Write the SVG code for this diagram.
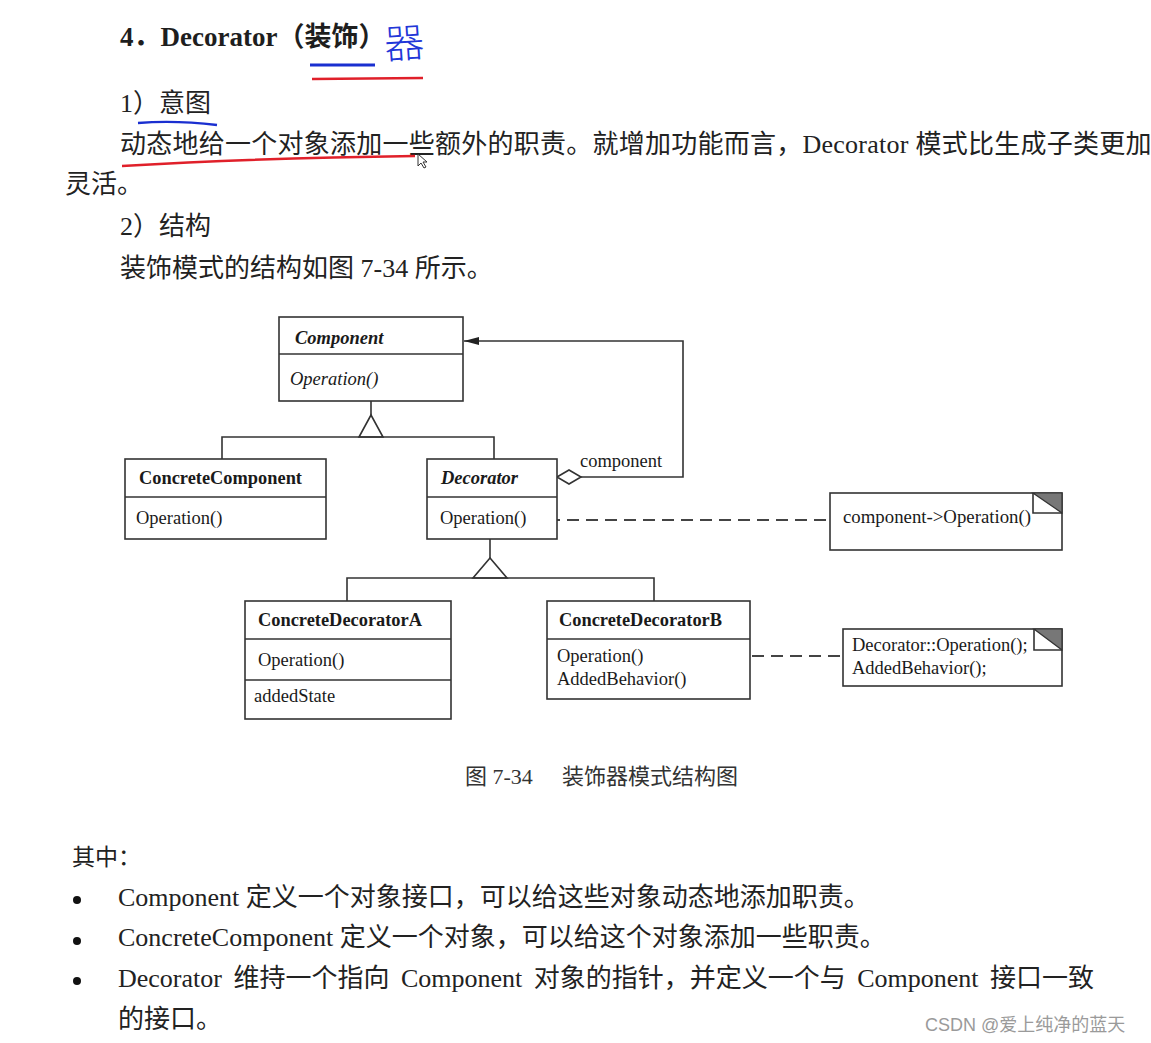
<svg xmlns="http://www.w3.org/2000/svg" width="1151" height="1043" viewBox="0 0 1151 1043">
<defs>
<style>
.t{font-family:"Liberation Serif","Noto Sans CJK SC",serif;fill:#1e1e1e}
.cjk{font-family:"Liberation Serif","Noto Sans CJK SC",serif;fill:#222;font-size:26px}
.d{font-family:"Liberation Serif",serif;fill:#1a1a1a;font-size:18.5px}
.b{font-weight:bold}
.i{font-style:italic}
.box{fill:#fff;stroke:#333;stroke-width:1.6}
.ln{fill:none;stroke:#333;stroke-width:1.6}
.dash{fill:none;stroke:#444;stroke-width:2;stroke-dasharray:12,7}
</style>
<marker id="fa" markerWidth="16" markerHeight="10" refX="15" refY="5" orient="auto" markerUnits="userSpaceOnUse">
<path d="M0,1 L15,5 L0,9 Z" fill="#222"/>
</marker>
</defs>
<rect width="1151" height="1043" fill="#fff"/>

<!-- header text -->
<g id="header">
<text class="t b" x="120" y="46" font-size="27">4．Decorator（装饰）</text>
<text x="384" y="58" font-family="Noto Sans CJK SC,sans-serif" font-size="40" font-weight="300" fill="#2236d8" transform="rotate(-4 400 40)">器</text>
<path d="M310,65 L375,65" stroke="#1a2fd0" stroke-width="3" fill="none"/>
<path d="M312,79 L423,78" stroke="#e0202a" stroke-width="2.5" fill="none"/>
<text class="cjk" x="120" y="112">1）意图</text>
<path d="M138,123 Q175,120 217,125" stroke="#1a2fd0" stroke-width="2.5" fill="none"/>
<text class="cjk" x="120" y="153" style="letter-spacing:0.25px">动态地给一个对象添加一些额外的职责。就增加功能而言，Decorator 模式比生成子类更加</text>
<path d="M122,166 Q260,158 415,156" stroke="#e0202a" stroke-width="2.5" fill="none"/>
<path d="M418,154 L418,166 L421,163 L424,168 L426,167 L423,162 L427,162 Z" fill="#fff" stroke="#333" stroke-width="1"/>
<text class="cjk" x="65" y="193">灵活。</text>
<text class="cjk" x="120" y="235">2）结构</text>
<text class="cjk" x="120" y="277">装饰模式的结构如图 7-34 所示。</text>
</g>

<!-- connectors -->
<g id="connectors">
<path class="ln" d="M371,401 L371,415"/>
<path class="ln" d="M371,415 L359,437 L383,437 Z"/>
<path class="ln" d="M222,459 L222,437 L494,437 L494,459"/>
<path class="ln" d="M490,539 L490,558"/>
<path class="ln" d="M490,558 L473,578 L507,578 Z"/>
<path class="ln" d="M347,601 L347,578 L654,578 L654,601"/>
<path class="ln" d="M557,477 L569,470 L581,477 L569,484 Z"/>
<path class="ln" d="M581,477 L683,477 L683,341 L464,341" marker-end="url(#fa)"/>
<text class="d" x="580" y="467">component</text>
<circle cx="543" cy="520" r="5" class="ln"/>
<path class="dash" d="M548,520 L830,520"/>
<circle cx="671" cy="656" r="5" class="ln"/>
<path class="dash" d="M676,656 L843,656"/>
</g>

<!-- nodes -->
<g id="component">
<rect class="box" x="279" y="317" width="184" height="84"/>
<path class="ln" d="M279,354 L463,354"/>
<text class="d b i" x="295" y="344">Component</text>
<text class="d i" x="290" y="385">Operation()</text>
</g>
<g id="concreteComponent">
<rect class="box" x="125" y="459" width="201" height="80"/>
<path class="ln" d="M125,497 L326,497"/>
<text class="d b" x="139" y="484" textLength="163" lengthAdjust="spacingAndGlyphs">ConcreteComponent</text>
<text class="d" x="136" y="524">Operation()</text>
</g>
<g id="decorator">
<rect class="box" x="427" y="459" width="130" height="80"/>
<path class="ln" d="M427,497 L557,497"/>
<text class="d b i" x="441" y="484">Decorator</text>
<text class="d" x="440" y="524">Operation()</text>
</g>
<g id="concreteDecoratorA">
<rect class="box" x="245" y="601" width="206" height="118"/>
<path class="ln" d="M245,639 L451,639 M245,680 L451,680"/>
<text class="d b" x="258" y="626" textLength="164" lengthAdjust="spacingAndGlyphs">ConcreteDecoratorA</text>
<text class="d" x="258" y="666">Operation()</text>
<text class="d" x="254" y="702">addedState</text>
</g>
<g id="concreteDecoratorB">
<rect class="box" x="547" y="601" width="203" height="98"/>
<path class="ln" d="M547,639 L750,639"/>
<text class="d b" x="559" y="626" textLength="163" lengthAdjust="spacingAndGlyphs">ConcreteDecoratorB</text>
<text class="d" x="557" y="662">Operation()</text>
<text class="d" x="557" y="685">AddedBehavior()</text>
</g>
<g id="note1">
<rect class="box" x="830" y="493" width="232" height="57"/>
<path d="M1033,493 L1062,493 L1062,513 Z" fill="#777" stroke="#333" stroke-width="1.2"/>
<path class="ln" d="M1033,493 L1033,513 L1062,513" stroke-width="1.2"/>
<text class="d" x="843" y="523" textLength="188" lengthAdjust="spacingAndGlyphs">component-&gt;Operation()</text>
</g>
<g id="note2">
<rect class="box" x="843" y="629" width="219" height="57"/>
<path d="M1034,629 L1062,629 L1062,650 Z" fill="#777" stroke="#333" stroke-width="1.2"/>
<path class="ln" d="M1034,629 L1034,650 L1062,650" stroke-width="1.2"/>
<text class="d" x="852" y="651">Decorator::Operation();</text>
<text class="d" x="852" y="674">AddedBehavior();</text>
</g>

<!-- caption and body -->
<g id="body">
<text class="cjk" x="465" y="784" style="font-size:22px;fill:#333">图 7-34<tspan x="562">装饰器模式结构图</tspan></text>
<text class="cjk" x="72" y="865" style="font-size:23px">其中：</text>
<circle cx="77" cy="900" r="4" fill="#111"/>
<circle cx="77" cy="941" r="4" fill="#111"/>
<circle cx="77" cy="981" r="4" fill="#111"/>
<text class="cjk" x="118" y="906">Component 定义一个对象接口，可以给这些对象动态地添加职责。</text>
<text class="cjk" x="118" y="946">ConcreteComponent 定义一个对象，可以给这个对象添加一些职责。</text>
<text class="cjk" x="118" y="987" word-spacing="5">Decorator 维持一个指向 Component 对象的指针，并定义一个与 Component 接口一致</text>
<text class="cjk" x="118" y="1028">的接口。</text>
<text x="925" y="1031" font-family="Liberation Sans,Noto Sans CJK SC,sans-serif" font-size="18" fill="#9a9a9a">CSDN @爱上纯净的蓝天</text>
</g>
</svg>
